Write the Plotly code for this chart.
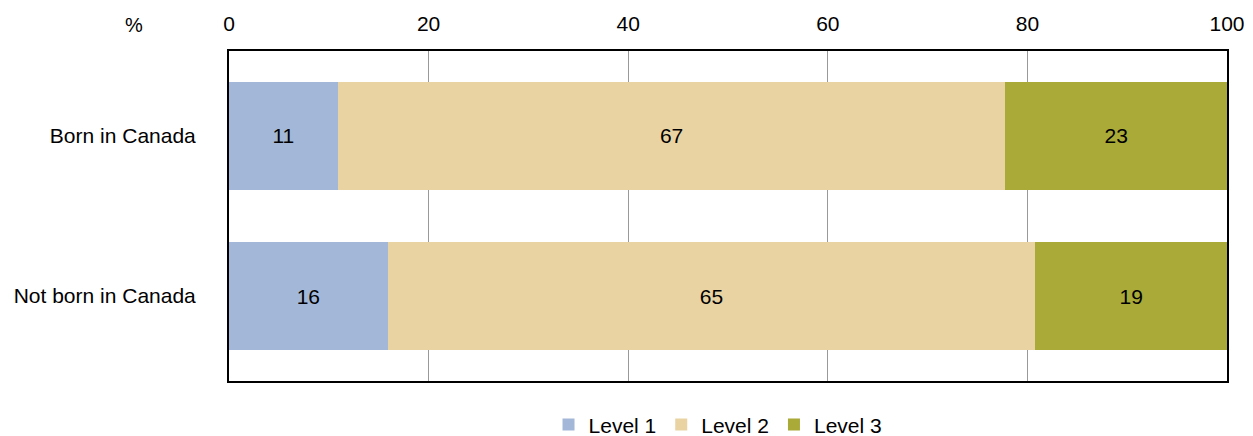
import plotly.graph_objects as go

categories = ["Born in Canada", "Not born in Canada"]
levels = ["Level 1", "Level 2", "Level 3"]
# bar widths, labels as printed
level1 = [10.9, 15.9]
level2 = [66.9, 64.9]
level3 = [22.2, 19.2]
labels1 = ["11", "16"]
labels2 = ["67", "65"]
labels3 = ["23", "19"]
colors = ["#A3B8D8", "#EAD3A3", "#A9AA37"]

FONT_SIZE = 21

fig = go.Figure()
for name, vals, txt, col in zip(levels, [level1, level2, level3],
                                [labels1, labels2, labels3], colors):
    fig.add_trace(go.Bar(
        y=categories, x=vals, name=name, orientation="h",
        marker=dict(color=col, line=dict(width=0)),
        text=txt, textposition="inside", insidetextanchor="middle",
        textfont=dict(size=FONT_SIZE, color="black"),
        width=0.675,
    ))

fig.add_annotation(
    text="%", xref="paper", yref="paper", x=-0.095, y=1.0, yshift=26,
    showarrow=False, font=dict(size=FONT_SIZE - 1, color="black"),
    xanchor="center", yanchor="middle",
)

# the page body adds an 8px offset, margins account for it
fig.update_layout(
    barmode="stack",
    width=1253, height=436,
    plot_bgcolor="white", paper_bgcolor="white",
    font=dict(family="Liberation Sans, Arial, sans-serif", size=FONT_SIZE, color="black"),
    margin=dict(l=221, r=34, t=43, b=63, autoexpand=False),
    xaxis=dict(
        side="top", range=[0, 100], dtick=20, automargin=False,
        showgrid=True, gridcolor="#999999", gridwidth=1,
        showline=True, linecolor="black", linewidth=2, mirror=True,
        zeroline=False, ticks="", ticklabelstandoff=10,
    ),
    yaxis=dict(
        range=[1.53, -0.53], showgrid=False, automargin=False,
        showline=True, linecolor="black", linewidth=2, mirror=True,
        ticks="", ticklabelstandoff=27,
    ),
    legend=dict(
        orientation="h", x=0.49, xanchor="center",
        yref="container", y=0.044, yanchor="middle",
        font=dict(size=FONT_SIZE), itemwidth=30, traceorder="normal",
    ),
    uniformtext=dict(minsize=FONT_SIZE, mode="show"),
)

fig.write_html("out.html")
